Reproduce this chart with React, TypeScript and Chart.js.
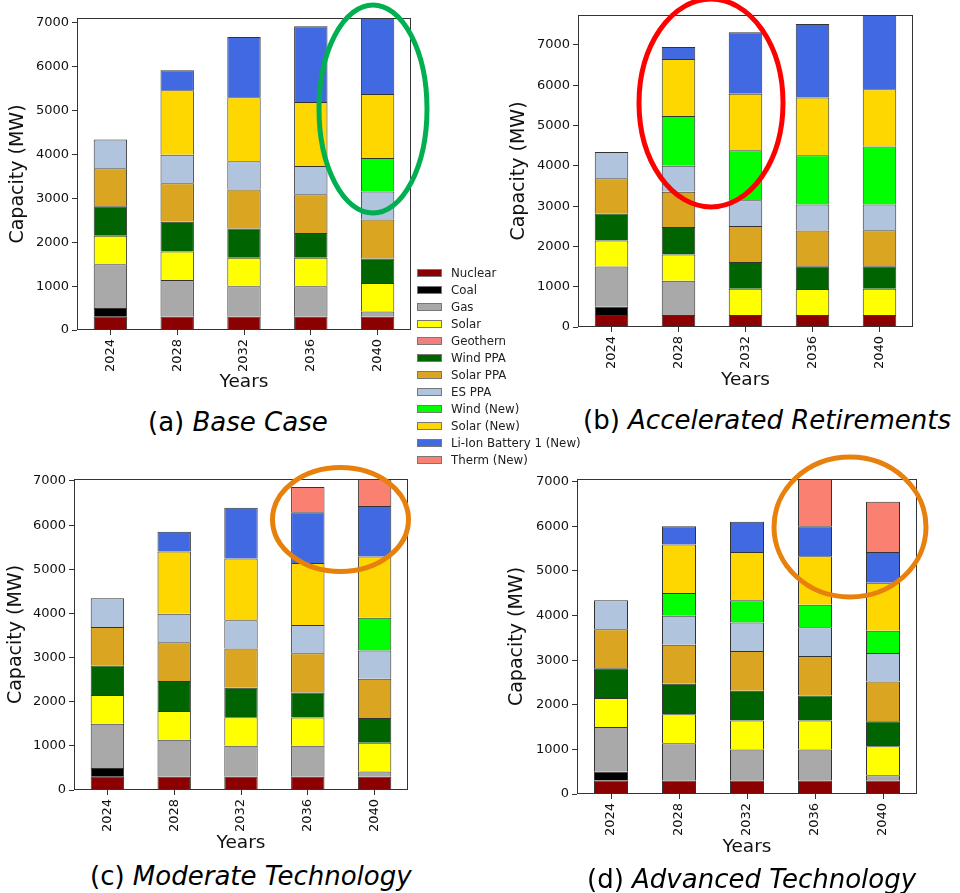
import React, { useEffect, useRef } from 'react';
import { Chart, registerables } from 'chart.js';

Chart.register(...registerables);
Chart.defaults.font.family = "'DejaVu Sans', sans-serif";

const years = ['2024', '2028', '2032', '2036', '2040'];
const yTickValues = [0, 1000, 2000, 3000, 4000, 5000, 6000, 7000];
const seriesNames = ['Nuclear', 'Coal', 'Gas', 'Solar', 'Geothern', 'Wind PPA', 'Solar PPA', 'ES PPA', 'Wind (New)', 'Solar (New)', 'Li-Ion Battery 1 (New)', 'Therm (New)'];
const seriesColors = ['#8B0000', '#000000', '#A9A9A9', '#FFFF00', '#F08080', '#006400', '#DAA520', '#B0C4DE', '#00FF00', '#FFD700', '#4169E1', '#FA8072'];

// Existing resources (MW)
const nuclear = [300, 300, 300, 300, 300];
const coal = [200, 0, 0, 0, 0];
const gasBase = [1000, 840, 700, 700, 120];
const gasAccel = [1000, 850, 0, 0, 0];
const solar = [650, 650, 650, 645, 650];
const geothern = [0, 0, 0, 0, 0];
const windPPA = [670, 680, 665, 565, 560];
const solarPPA = [870, 875, 890, 885, 890];
const esPPA = [655, 650, 640, 645, 640];

// (a) Base Case
const baseWindNew = [0, 0, 0, 0, 760];
const baseSolarNew = [0, 1470, 1460, 1460, 1460];
const baseLiIon = [0, 456, 1377, 1725, 1734];
const baseTherm = [0, 0, 0, 0, 0];

// (b) Accelerated Retirements
const accelWindNew = [0, 1230, 1240, 1225, 1440];
const accelSolarNew = [0, 1420, 1405, 1430, 1420];
const accelLiIon = [0, 295, 1524, 1826, 1844];
const accelTherm = [0, 0, 0, 0, 0];

// (c) Moderate Technology
const modWindNew = [0, 0, 0, 0, 740];
const modSolarNew = [0, 1405, 1400, 1405, 1390];
const modLiIon = [0, 452, 1151, 1145, 1144];
const modTherm = [0, 0, 0, 574, 611];

// (d) Advanced Technology
const advWindNew = [0, 510, 495, 500, 500];
const advSolarNew = [0, 1085, 1085, 1090, 1075];
const advLiIon = [0, 409, 678, 669, 689];
const advTherm = [0, 0, 0, 1061, 1128];

const yMaxes = [7114, 7744, 7045, 7060];
const captionLetters = ['(a) ', '(b) ', '(c) ', '(d) '];
const captionNames = ['Base Case', 'Accelerated Retirements', 'Moderate Technology', 'Advanced Technology'];

const scenarioSeries = [
  [nuclear, coal, gasBase, solar, geothern, windPPA, solarPPA, esPPA, baseWindNew, baseSolarNew, baseLiIon, baseTherm],
  [nuclear, coal, gasAccel, solar, geothern, windPPA, solarPPA, esPPA, accelWindNew, accelSolarNew, accelLiIon, accelTherm],
  [nuclear, coal, gasBase, solar, geothern, windPPA, solarPPA, esPPA, modWindNew, modSolarNew, modLiIon, modTherm],
  [nuclear, coal, gasBase, solar, geothern, windPPA, solarPPA, esPPA, advWindNew, advSolarNew, advLiIon, advTherm],
];

// layout of each panel
const panels = [
  { left: 0, top: 0, w: 420, h: 400, yW: 77, xH: 70, pt: 18, pr: 9, ytp: 6.6, xtp: 6.9 },
  { left: 480, top: 0, w: 480, h: 400, yW: 98, xH: 73, pt: 15, pr: 47, ytp: 27.6, xtp: 8.9 },
  { left: 0, top: 455, w: 420, h: 400, yW: 74, xH: 65, pt: 24, pr: 12, ytp: 4.6, xtp: 0.9 },
  { left: 480, top: 455, w: 480, h: 410, yW: 97, xH: 71, pt: 24, pr: 43, ytp: 25.6, xtp: 6.9 },
];
const captions = [
  { left: 148, cy: 422 },
  { left: 583, cy: 420 },
  { left: 90, cy: 876 },
  { left: 587, cy: 879 },
];
const ellipses = [
  { cx: 373, cy: 109, rx: 54, ry: 104, color: '#00B050' },
  { cx: 711, cy: 103, rx: 72, ry: 104, color: '#FF0000' },
  { cx: 340.5, cy: 519.5, rx: 68, ry: 52, color: '#E8800C' },
  { cx: 850, cy: 527, rx: 76, ry: 70, color: '#E8800C' },
];

const framePlugin = {
  id: 'frame',
  afterDraw(chart: any) {
    const { ctx, chartArea } = chart;
    const l = Math.round(chartArea.left) + 0.5;
    const t = Math.round(chartArea.top) + 0.5;
    const r = Math.round(chartArea.right) - 0.5;
    const b = Math.round(chartArea.bottom) - 0.5;
    ctx.save();
    ctx.strokeStyle = '#333';
    ctx.lineWidth = 1;
    ctx.strokeRect(l, t, r - l, b - t);
    ctx.restore();
  },
};

function Panel({ idx }: { idx: number }) {
  const ref = useRef<HTMLCanvasElement | null>(null);
  const p = panels[idx];
  useEffect(() => {
    if (!ref.current) return;
    const series = scenarioSeries[idx];
    const chart = new Chart(ref.current, {
      type: 'bar',
      data: {
        labels: years,
        datasets: seriesNames.map((name, i) => ({
          label: name,
          data: series[i].map((v) => (v === 0 ? null : v)),
          backgroundColor: seriesColors[i],
          borderColor: 'rgba(0,0,0,0.8)',
          borderWidth: { top: 1, left: 1, right: 1, bottom: 0 },
          borderSkipped: false,
          barPercentage: 0.5,
          categoryPercentage: 1,
        })),
      },
      options: {
        animation: false,
        responsive: false,
        maintainAspectRatio: false,
        layout: { padding: { top: p.pt, right: p.pr, left: 0, bottom: 0 } },
        plugins: { legend: { display: false }, tooltip: { enabled: false } },
        scales: {
          x: {
            stacked: true,
            offset: true,
            grid: { offset: false, drawOnChartArea: false, drawTicks: true, tickLength: 5, color: '#333' },
            border: { display: false },
            ticks: { minRotation: 90, maxRotation: 90, padding: 4, color: '#111', font: { size: 13 } },
            title: { display: true, text: 'Years', color: '#111', font: { size: 18.5 }, padding: { top: 0, bottom: p.xtp } },
            afterFit: (s: any) => { s.height = p.xH; },
          },
          y: {
            stacked: true,
            min: 0,
            max: yMaxes[idx],
            grid: { drawOnChartArea: false, drawTicks: true, tickLength: 5, color: '#333' },
            border: { display: false },
            ticks: { padding: 3, color: '#111', font: { size: 13 }, callback: (v: any) => String(v) },
            afterBuildTicks: (s: any) => { s.ticks = yTickValues.map((v) => ({ value: v })); },
            title: { display: true, text: 'Capacity (MW)', color: '#111', font: { size: 19 }, padding: { top: p.ytp, bottom: 0 } },
            afterFit: (s: any) => { s.width = p.yW; },
          },
        },
      },
      plugins: [framePlugin],
    } as any);
    return () => chart.destroy();
  }, [idx]);
  return (
    <canvas
      ref={ref}
      width={p.w}
      height={p.h}
      style={{ position: 'absolute', left: p.left, top: p.top, width: p.w, height: p.h }}
    />
  );
}

export default function App() {
  return (
    <div style={{ position: 'absolute', left: 0, top: 0, width: 960, height: 893, overflow: 'hidden', background: '#fff', fontFamily: "'DejaVu Sans', sans-serif" }}>
      {[0, 1, 2, 3].map((i) => <Panel key={i} idx={i} />)}
      {captions.map((c, i) => (
        <div key={'cap' + i} style={{ position: 'absolute', left: c.left, top: c.cy - 15, height: 30, lineHeight: '30px', fontSize: 26, whiteSpace: 'nowrap', color: '#000' }}>
          {captionLetters[i]}<i>{captionNames[i]}</i>
        </div>
      ))}
      {seriesNames.map((name, i) => (
        <div key={'lg' + i} style={{ position: 'absolute', left: 417, top: 273.3 - 8.5 + 17 * i, height: 17, display: 'flex', alignItems: 'center', whiteSpace: 'nowrap', zIndex: 2 }}>
          <div style={{ width: 25, height: 8, boxSizing: 'border-box', background: seriesColors[i], border: '1px solid #777' }} />
          <span style={{ marginLeft: 9, fontSize: 11.8, color: '#222' }}>{name}</span>
        </div>
      ))}
      <svg width={960} height={893} style={{ position: 'absolute', left: 0, top: 0, pointerEvents: 'none', zIndex: 3 }}>
        {ellipses.map((e, i) => (
          <ellipse key={i} cx={e.cx} cy={e.cy} rx={e.rx} ry={e.ry} fill="none" stroke={e.color} strokeWidth={5} />
        ))}
      </svg>
    </div>
  );
}
